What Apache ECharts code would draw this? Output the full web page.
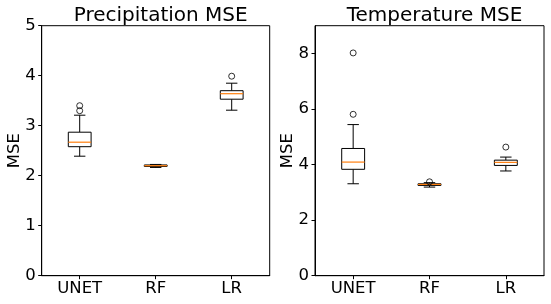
<!DOCTYPE html>
<html><head><meta charset="utf-8">
<script src="https://cdn.jsdelivr.net/npm/echarts@6/dist/echarts.min.js"></script>
<style>html,body{margin:0;padding:0;background:#fff}#c{width:551px;height:304px}</style>
</head><body><div id="c"></div>
<script>
const categories = ['UNET', 'RF', 'LR'];
// [whiskerLow, Q1, median, Q3, whiskerHigh]
const precipBoxes = [
  [2.39, 2.58, 2.67, 2.87, 3.21],
  [2.165, 2.185, 2.20, 2.215, 2.225],
  [3.31, 3.53, 3.64, 3.70, 3.85]
];
const precipOutliers = [[0, 3.40], [0, 3.30], [2, 3.99]];
const tempBoxes = [
  [3.31, 3.83, 4.09, 4.58, 5.44],
  [3.19, 3.25, 3.285, 3.31, 3.35],
  [3.77, 3.97, 4.08, 4.16, 4.27]
];
const tempOutliers = [[0, 8.02], [0, 5.81], [1, 3.38], [2, 4.63]];
const precipTicks = [0, 1, 2, 3, 4, 5];
const tempTicks = [0, 2, 4, 6, 8];

const FONT = 'DejaVu Sans';
function renderItem(params, api) {
  const x = api.value(0);
  const lo = api.coord([x, api.value(1)]);
  const q1 = api.coord([x, api.value(2)]);
  const md = api.coord([x, api.value(3)]);
  const q3 = api.coord([x, api.value(4)]);
  const hi = api.coord([x, api.value(5)]);
  const bw = api.size([1, 0])[0] * 0.3;
  const cx = lo[0];
  const st = {stroke: '#000', lineWidth: 1, fill: null};
  return {type: 'group', children: [
    {type: 'line', shape: {x1: cx, y1: q1[1], x2: cx, y2: lo[1]}, style: st},
    {type: 'line', shape: {x1: cx, y1: q3[1], x2: cx, y2: hi[1]}, style: st},
    {type: 'line', shape: {x1: cx - bw / 4, y1: lo[1], x2: cx + bw / 4, y2: lo[1]}, style: st},
    {type: 'line', shape: {x1: cx - bw / 4, y1: hi[1], x2: cx + bw / 4, y2: hi[1]}, style: st},
    {type: 'rect', shape: {x: cx - bw / 2, y: q3[1], width: bw, height: q1[1] - q3[1]}, style: {stroke: '#000', lineWidth: 1, fill: '#fff'}},
    {type: 'line', shape: {x1: cx - bw / 2, y1: md[1], x2: cx + bw / 2, y2: md[1]}, style: {stroke: '#ff7f0e', lineWidth: 1.2}}
  ]};
}
function boxData(b) { return b.map((v, i) => [i].concat(v)); }
function yAxis(idx, max, interval, ticks) {
  return {
    type: 'value', gridIndex: idx, min: 0, max: max, interval: interval,
    name: 'MSE', nameLocation: 'middle', nameGap: 18.5, nameMoveOverlap: false,
    nameTextStyle: {fontFamily: FONT, fontSize: 16.5, color: '#000'},
    axisLine: {show: true, lineStyle: {color: '#000', width: 1}},
    axisTick: {show: true, inside: false, length: 3.5, lineStyle: {color: '#000'}, customValues: ticks},
    axisLabel: {fontFamily: FONT, fontSize: 16.5, color: '#000', margin: 6, customValues: ticks},
    splitLine: {show: false}
  };
}
function xAxis(idx) {
  return {
    type: 'category', gridIndex: idx, data: categories, boundaryGap: true,
    axisLine: {show: true, lineStyle: {color: '#000', width: 1}},
    axisTick: {show: true, alignWithLabel: true, length: 3.5, lineStyle: {color: '#000'}},
    axisLabel: {fontFamily: FONT, fontSize: 16.5, color: '#000', margin: 5},
    splitLine: {show: false}
  };
}
const chart = echarts.init(document.getElementById('c'), null, {renderer: 'canvas'});
chart.setOption({
  animation: false,
  backgroundColor: '#fff',
  title: [
    {text: 'Precipitation MSE', left: 155.7, top: 1, textAlign: 'center', textStyle: {fontFamily: FONT, fontSize: 20, fontWeight: 'normal', color: '#000'}},
    {text: 'Temperature MSE', left: 429.5, top: 1, textAlign: 'center', textStyle: {fontFamily: FONT, fontSize: 20, fontWeight: 'normal', color: '#000'}}
  ],
  grid: [
    {left: 41.7, top: 25.7, width: 228, height: 250, show: true, borderColor: '#000', borderWidth: 1, backgroundColor: 'transparent'},
    {left: 315, top: 25.7, width: 229, height: 250, show: true, borderColor: '#000', borderWidth: 1, backgroundColor: 'transparent'}
  ],
  xAxis: [xAxis(0), xAxis(1)],
  yAxis: [yAxis(0, 5, 1, precipTicks), yAxis(1, 9, 1, tempTicks)],
  series: [
    {type: 'custom', xAxisIndex: 0, yAxisIndex: 0, renderItem: renderItem, data: boxData(precipBoxes), encode: {x: 0, y: [1, 2, 3, 4, 5]}, z: 2},
    {type: 'custom', xAxisIndex: 1, yAxisIndex: 1, renderItem: renderItem, data: boxData(tempBoxes), encode: {x: 0, y: [1, 2, 3, 4, 5]}, z: 2},
    {type: 'scatter', xAxisIndex: 0, yAxisIndex: 0, data: precipOutliers, symbol: 'circle', symbolSize: 6, itemStyle: {color: 'rgba(0,0,0,0)', borderColor: '#000', borderWidth: 1}, z: 3},
    {type: 'scatter', xAxisIndex: 1, yAxisIndex: 1, data: tempOutliers, symbol: 'circle', symbolSize: 6, itemStyle: {color: 'rgba(0,0,0,0)', borderColor: '#000', borderWidth: 1}, z: 3}
  ]
});
</script></body></html>
